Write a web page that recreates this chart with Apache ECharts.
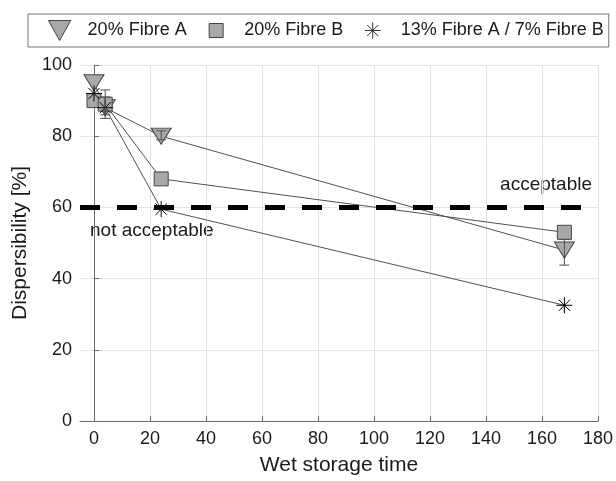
<!DOCTYPE html>
<html>
<head>
<meta charset="utf-8">
<script src="https://cdn.jsdelivr.net/npm/echarts@6/dist/echarts.min.js"></script>
<style>
    html, body { margin: 0; padding: 0; background: #fff; }
    #chart { width: 616px; height: 481px; }
</style>
</head>
<body>
<div id="chart"></div>
<script>
/* 数据 */
const seriesNames = ["20% Fibre A", "20% Fibre B", "13% Fibre A / 7% Fibre B"];

const fibreA = [[0, 95], [4, 88], [24, 80], [168, 48]];
const fibreB = [[0, 90], [4, 89], [24, 68], [168, 53]];
const fibreMix = [[0, 92], [4, 88], [24, 59.5], [168, 32.5]];

/* 误差棒 [x, 下限, 上限] */
const errA = [[4, 85, 91], [24, 79, 81.5], [168, 43.8, 51]];
const errB = [[4, 86, 93]];

const xTicks = [0, 20, 40, 60, 80, 100, 120, 140, 160, 180];
const limitValue = 60;

/* 样式 */
const font = "Liberation Sans, Arial, Helvetica, sans-serif";
const textColor = "#1a1a1a";
const markerFill = "#a8a8a8";
const markerEdge = "#454545";
const lineColor = "#505050";

const triangleDown = "path://M0,0 L10,0 L5,9 Z";
const asterisk = "path://M5,0 L5,10 M0,5 L10,5 M1.5,1.5 L8.5,8.5 M1.5,8.5 L8.5,1.5";

/* 图例图标：留白用零长度线段撑开 */
const legendSquare = "path://M3,3 L17,3 L17,17 L3,17 Z M0,0 L0,0 M20,20 L20,20";
const legendStar = "path://M10,2 L10,18 M2,10 L18,10 M4.5,4.5 L15.5,15.5 M4.5,15.5 L15.5,4.5 M0,0 L0,0 M20,20 L20,20";

/* 误差棒绘制 */
function errorBar(params, api){

    const x = api.value(0);
    const low = api.coord([x, api.value(1)]);
    const high = api.coord([x, api.value(2)]);
    const half = 5;
    const style = { stroke: lineColor, lineWidth: 1 };

    return {
        type: "group",
        children: [
            { type: "line", shape: { x1: low[0], y1: low[1], x2: high[0], y2: high[1] }, style },
            { type: "line", shape: { x1: low[0] - half, y1: low[1], x2: low[0] + half, y2: low[1] }, style },
            { type: "line", shape: { x1: high[0] - half, y1: high[1], x2: high[0] + half, y2: high[1] }, style }
        ]
    };
}

const chart = echarts.init(document.getElementById("chart"));

chart.setOption({

    animation: false,

    textStyle: { fontFamily: font },

    grid: { left: 80, right: 14, top: 65, bottom: 58 },

    legend: {
        left: 28,
        top: 14,
        padding: [6, 5, 6, 20],
        itemGap: 19,
        itemWidth: 46,
        itemHeight: 20,
        borderColor: "#707070",
        borderWidth: 1,
        borderRadius: 0,
        textStyle: { fontSize: 18, color: textColor, fontFamily: font },
        data: [
            {
                name: seriesNames[0],
                icon: triangleDown,
                itemStyle: { color: markerFill, borderColor: markerEdge, borderWidth: 1 }
            },
            {
                name: seriesNames[1],
                icon: legendSquare,
                itemStyle: { color: markerFill, borderColor: markerEdge, borderWidth: 1 }
            },
            {
                name: seriesNames[2],
                icon: legendStar,
                itemStyle: { color: "rgba(0,0,0,0)", borderColor: "#333", borderWidth: 1 }
            }
        ]
    },

    xAxis: {
        type: "value",
        min: -5,
        max: 180,
        name: "Wet storage time",
        nameLocation: "middle",
        nameGap: 34,
        nameTextStyle: { fontSize: 21, color: textColor, fontFamily: font },
        axisLine: { lineStyle: { color: "#6a6a6a", width: 1 } },
        axisTick: { inside: true, length: 5, customValues: xTicks, lineStyle: { color: "#6a6a6a" } },
        axisLabel: { customValues: xTicks, fontSize: 18, color: textColor, margin: 9 },
        splitLine: { show: true, lineStyle: { color: "#e4e4e4", width: 1 } }
    },

    yAxis: {
        type: "value",
        min: 0,
        max: 100,
        interval: 20,
        name: "Dispersibility [%]",
        nameLocation: "middle",
        nameGap: 39,
        nameTextStyle: { fontSize: 21, color: textColor, fontFamily: font },
        axisLine: { show: true, lineStyle: { color: "#6a6a6a", width: 1 } },
        axisTick: { show: true, inside: true, length: 5, lineStyle: { color: "#6a6a6a" } },
        axisLabel: { fontSize: 18, color: textColor, margin: 8 },
        splitLine: { show: true, lineStyle: { color: "#e4e4e4", width: 1 } }
    },

    graphic: [
        {
            type: "text",
            right: 24,
            top: 175,
            style: { text: "acceptable", fontSize: 19, fill: textColor, fontFamily: font }
        },
        {
            type: "text",
            left: 90,
            top: 221,
            style: { text: "not acceptable", fontSize: 19, fill: textColor, fontFamily: font }
        }
    ],

    series: [
        {
            name: "limit",
            type: "line",
            data: [],
            markLine: {
                silent: true,
                symbol: "none",
                label: { show: false },
                lineStyle: { color: "#000", width: 5, type: [20, 17] },
                data: [{ yAxis: limitValue }]
            }
        },
        {
            name: seriesNames[0],
            type: "line",
            data: fibreA,
            symbol: triangleDown,
            symbolSize: [20, 18],
            symbolKeepAspect: true,
            itemStyle: { color: markerFill, borderColor: markerEdge, borderWidth: 1 },
            lineStyle: { color: lineColor, width: 1 },
            z: 3
        },
        {
            name: seriesNames[1],
            type: "line",
            data: fibreB,
            symbol: "rect",
            symbolSize: 14,
            itemStyle: { color: markerFill, borderColor: markerEdge, borderWidth: 1 },
            lineStyle: { color: lineColor, width: 1 },
            z: 3
        },
        {
            name: seriesNames[2],
            type: "line",
            data: fibreMix,
            symbol: asterisk,
            symbolSize: 16,
            itemStyle: { color: "rgba(0,0,0,0)", borderColor: "#000", borderWidth: 1 },
            lineStyle: { color: lineColor, width: 1 },
            z: 3
        },
        {
            name: "errA",
            type: "custom",
            renderItem: errorBar,
            data: errA,
            encode: { x: 0, y: [1, 2] },
            z: 4
        },
        {
            name: "errB",
            type: "custom",
            renderItem: errorBar,
            data: errB,
            encode: { x: 0, y: [1, 2] },
            z: 4
        }
    ]
});
</script>
</body>
</html>
